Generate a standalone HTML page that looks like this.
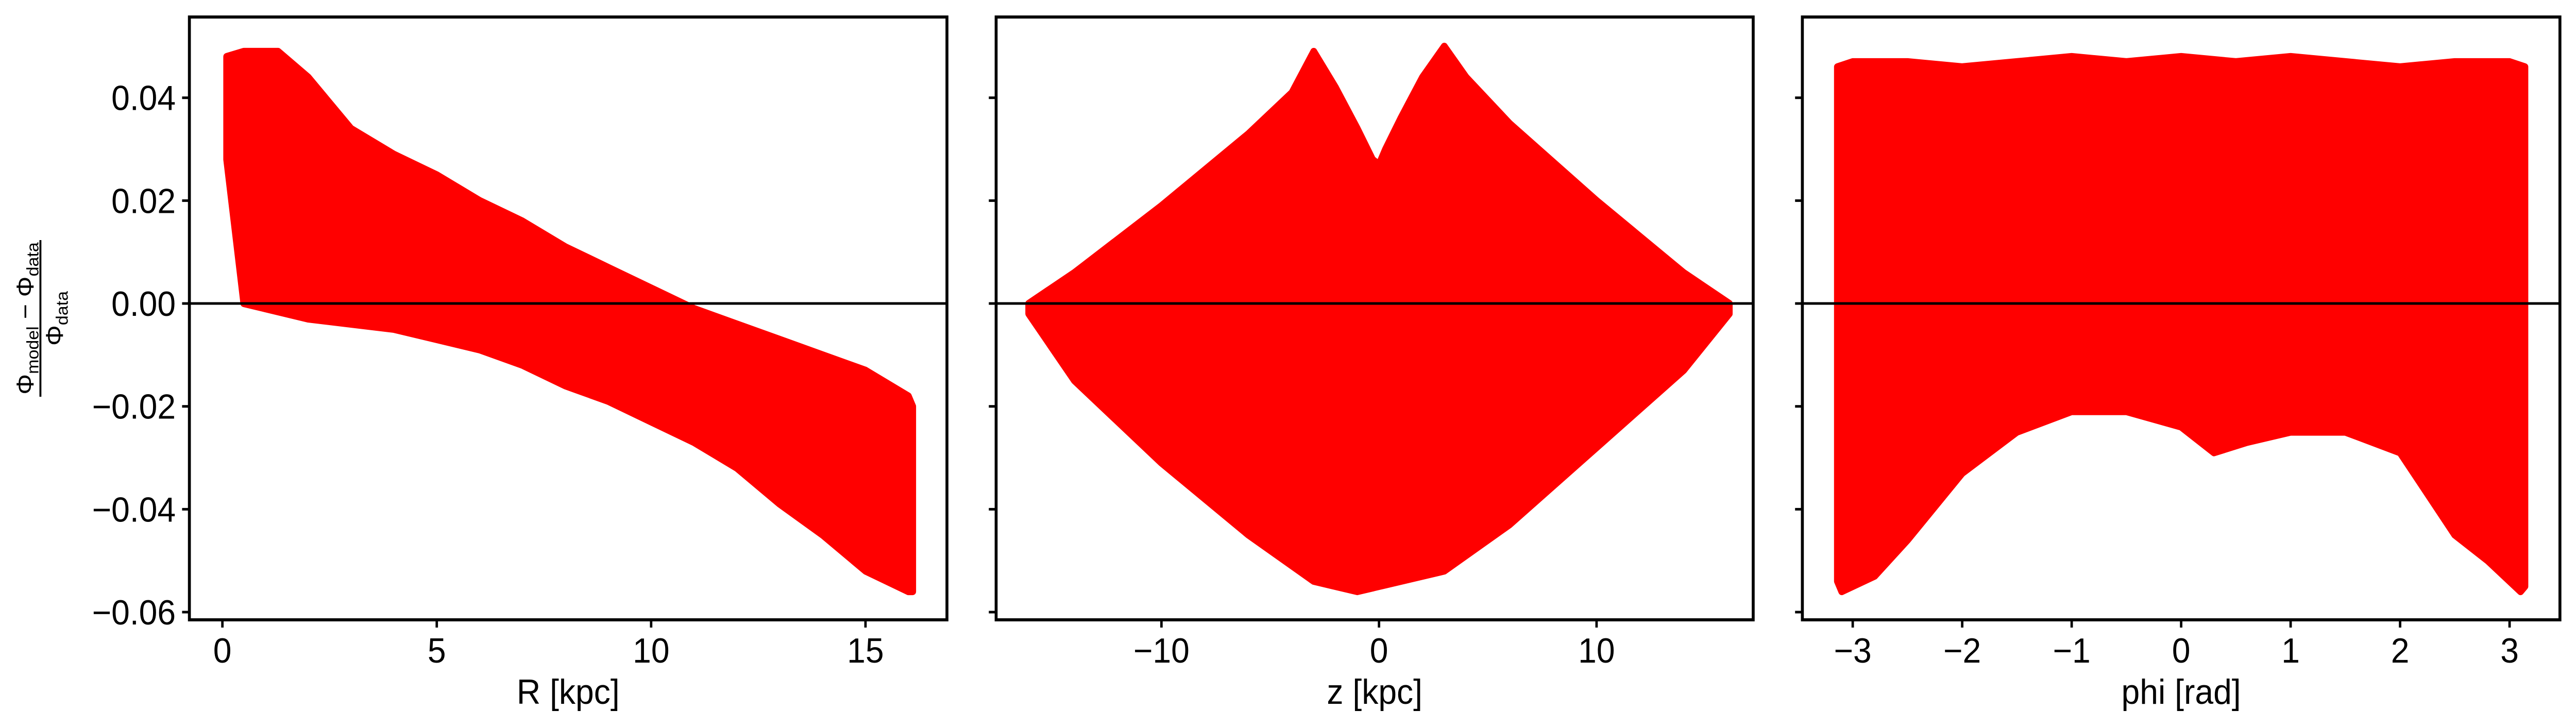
<!DOCTYPE html>
<html><head><meta charset="utf-8"><style>
html,body{margin:0;padding:0;background:#fff;overflow:hidden;width:100%;height:100%;}
svg{display:block;position:absolute;left:0;top:0;width:100vw;height:100vh;}
svg text{font-family:"Liberation Sans","DejaVu Sans",sans-serif;fill:#000;}
</style></head><body>
<svg id="fig" xmlns="http://www.w3.org/2000/svg" viewBox="0 0 5291 1411" preserveAspectRatio="none">
<rect width="5291" height="1411" fill="#fff"/>
<g id="ylabel" transform="translate(83,618) rotate(-90)">
  <text x="0" y="-14" text-anchor="middle" font-size="50">Φ<tspan font-size="34" dy="10">model</tspan><tspan dy="-10"> − Φ</tspan><tspan font-size="34" dy="10">data</tspan></text>
  <line x1="-152" x2="152" y1="0" y2="0" stroke="#000" stroke-width="4"/>
  <text x="0" y="46" text-anchor="middle" font-size="50">Φ<tspan font-size="34" dy="10">data</tspan></text>
</g>
</svg>
<script>
// Panel 1: R [kpc]
const rUpperX = [0.1,0.5,1.3,2,3,4,5,6,7,8,9,10,11,12,13,14,15,16,16.1];
const rUpperY = [0.048,0.049,0.049,0.044,0.034,0.029,0.025,0.020,0.016,0.011,0.007,0.003,-0.001,-0.004,-0.007,-0.010,-0.013,-0.018,-0.020];
const rLowerX = [16.1,16,15,14,13,12,11,10,9,8,7,6,5,4,3,2,1,0.5,0.1];
const rLowerY = [-0.056,-0.056,-0.052,-0.045,-0.039,-0.032,-0.027,-0.023,-0.019,-0.016,-0.012,-0.009,-0.007,-0.005,-0.004,-0.003,-0.001,0.0,0.028];
// Panel 2: z [kpc]
const zUpperX = [-16.1,-14,-10,-6,-4,-3,-2,-1,-0.3,0,0.3,1,2,3,4,6,10,14,16.1];
const zUpperY = [0,0.006,0.019,0.033,0.041,0.049,0.042,0.034,0.028,0.027,0.030,0.036,0.044,0.050,0.044,0.035,0.020,0.006,0];
const zLowerX = [16.1,14,10,6,3,0,-1,-3,-6,-10,-14,-16.1];
const zLowerY = [-0.002,-0.013,-0.028,-0.043,-0.052,-0.055,-0.056,-0.054,-0.045,-0.031,-0.015,-0.002];
// Panel 3: phi [rad]
const pUpperX = [-3.14,-3,-2.5,-2,-1.5,-1,-0.5,0,0.5,1,1.5,2,2.5,3,3.14];
const pUpperY = [0.046,0.047,0.047,0.046,0.047,0.048,0.047,0.048,0.047,0.048,0.047,0.046,0.047,0.047,0.046];
const pLowerX = [3.14,3.1,2.8,2.5,2,1.5,1,0.6,0.3,0,-0.5,-1,-1.5,-2,-2.5,-2.8,-3.1,-3.14];
const pLowerY = [-0.055,-0.056,-0.050,-0.045,-0.029,-0.025,-0.025,-0.027,-0.029,-0.024,-0.021,-0.021,-0.025,-0.033,-0.046,-0.053,-0.056,-0.054];
// Tick labels
const yTicks = [0.04,0.02,0.00,-0.02,-0.04,-0.06];
const yTickLabels = ["0.04","0.02","0.00","\u22120.02","\u22120.04","\u22120.06"];
const rTicks = [0,5,10,15];
const zTicks = [-10,0,10];
const zTickLabels = ["\u221210","0","10"];
const pTicks = [-3,-2,-1,0,1,2,3];
const pTickLabels = ["\u22123","\u22122","\u22121","0","1","2","3"];

const NS="http://www.w3.org/2000/svg";
const svg=document.getElementById('fig');
const TOP=33, BOT=1203;
const Y0=0.0557, Y1=-0.0615;
function yScale(v){return TOP+(Y0-v)/(Y0-Y1)*(BOT-TOP);}
function mk(tag,attrs,parent){const e=document.createElementNS(NS,tag);for(const k in attrs)e.setAttribute(k,attrs[k]);(parent||svg).appendChild(e);return e;}

const panels=[
 {name:'r',left:389,right:1945,xmin:-0.77,xmax:16.9,ux:rUpperX,uy:rUpperY,lx:rLowerX,ly:rLowerY,ticks:rTicks,labels:rTicks.map(String),title:'R [kpc]',ylabels:true},
 {name:'z',left:2046,right:3601,xmin:-17.6,xmax:17.2,ux:zUpperX,uy:zUpperY,lx:zLowerX,ly:zLowerY,ticks:zTicks,labels:zTickLabels,title:'z [kpc]',ylabels:false},
 {name:'phi',left:3702,right:5258,xmin:-3.46,xmax:3.46,ux:pUpperX,uy:pUpperY,lx:pLowerX,ly:pLowerY,ticks:pTicks,labels:pTickLabels,title:'phi [rad]',ylabels:false}
];

panels.forEach(p=>{
  const xs=v=>p.left+(v-p.xmin)/(p.xmax-p.xmin)*(p.right-p.left);
  const g=mk('g',{});
  
  
  const pts=[];
  for(let i=0;i<p.ux.length;i++)pts.push(xs(p.ux[i]).toFixed(1)+','+yScale(p.uy[i]).toFixed(1));
  for(let i=0;i<p.lx.length;i++)pts.push(xs(p.lx[i]).toFixed(1)+','+yScale(p.ly[i]).toFixed(1));
  const poly=mk('polygon',{points:pts.join(' '),fill:'#ff0000',stroke:'#ff0000','stroke-width':14,'stroke-linejoin':'round'},g);
  
  
  const zl=mk('line',{x1:p.left,x2:p.right,y1:yScale(0),y2:yScale(0),stroke:'#000','stroke-width':5},g);
  
  
  const fr=mk('rect',{x:p.left,y:TOP,width:p.right-p.left,height:BOT-TOP,fill:'none',stroke:'#000','stroke-width':6},g);
  
  
  yTicks.forEach((t,i)=>{
    const y=yScale(t);
    mk('line',{x1:p.left-15,x2:p.left,y1:y,y2:y,stroke:'#000','stroke-width':5},g);
    if(p.ylabels){
      const tx=mk('text',{x:p.left-28,y:y+24,'text-anchor':'end','font-size':68},g);
      tx.textContent=yTickLabels[i];
      
      
    }
  });
  p.ticks.forEach((t,i)=>{
    const x=xs(t);
    mk('line',{x1:x,x2:x,y1:BOT,y2:BOT+15,stroke:'#000','stroke-width':5},g);
    const tx=mk('text',{x:x,y:BOT+83,'text-anchor':'middle','font-size':68},g);
    tx.textContent=p.labels[i];
    
    
  });
  const tt=mk('text',{x:(p.left+p.right)/2,y:1366,'text-anchor':'middle','font-size':68},g);
  tt.textContent=p.title;
  
  
});
</script>
</body></html>
